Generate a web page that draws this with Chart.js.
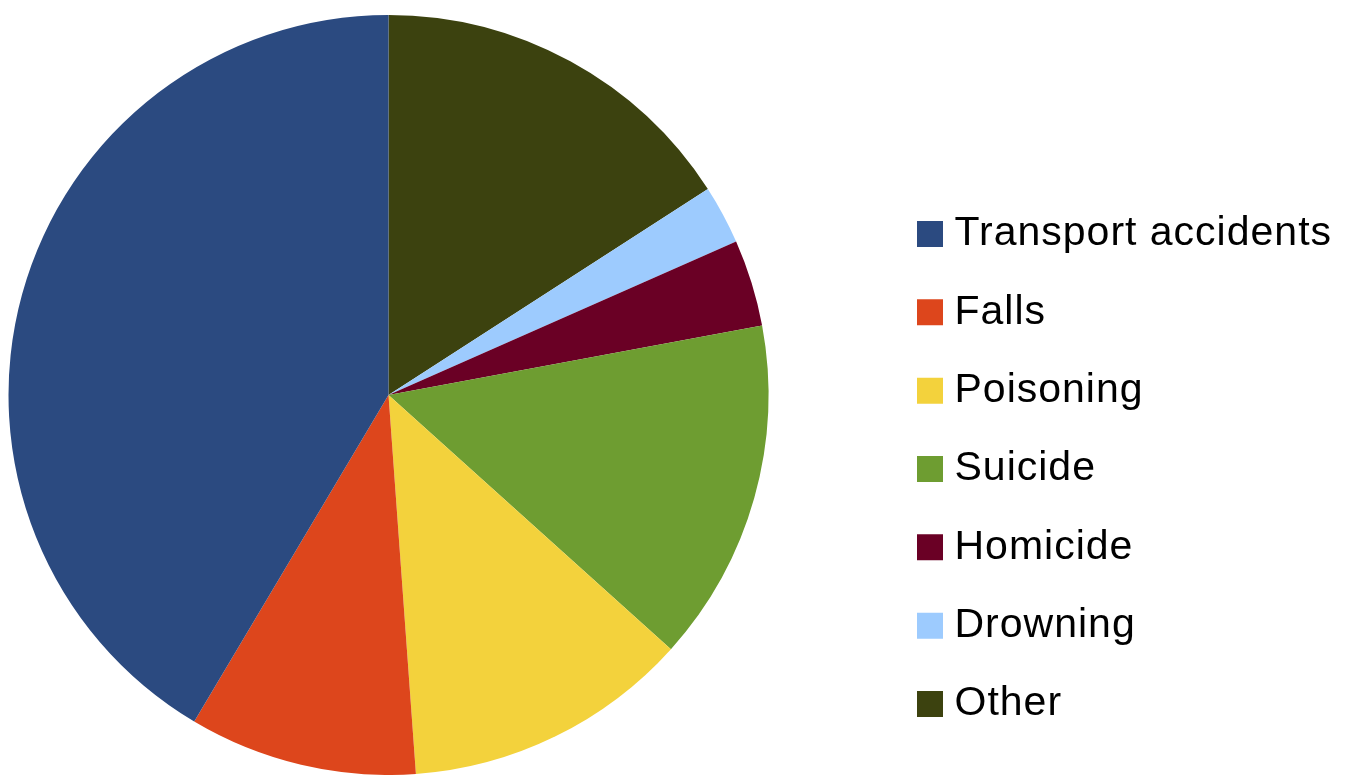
<!DOCTYPE html>
<html>
<head>
<meta charset="utf-8">
<title>Injury deaths by cause</title>
<script src="https://cdn.jsdelivr.net/npm/chart.js@4"></script>
<style>
  html, body { margin: 0; padding: 0; background: #fff; }
  canvas { display: block; }
</style>
</head>
<body>
<canvas id="chart" width="1350" height="775"></canvas>
<script>
// Causes, in legend order
const causes = ['Transport accidents', 'Falls', 'Poisoning', 'Suicide', 'Homicide', 'Drowning', 'Other'];
// Share of deaths, percent
const shares = [41.5, 9.7, 12.2, 14.6, 3.7, 2.5, 15.9];
const colours = ['#2b4a80', '#dd461c', '#f3d23c', '#6e9d31', '#6a0025', '#9dcbfe', '#3c420f'];

// Slices run counter-clockwise from 12 o'clock, so feed them to the
// (clockwise) pie in reverse and flip the legend back.
const sliceLabels = causes.slice().reverse();
const sliceValues = shares.slice().reverse();
const sliceColours = colours.slice().reverse();

const PIE_AREA_WIDTH = 777;   // width left for the pie itself
const LEGEND_X = 926;         // left of first legend box (before stroke)
const LEGEND_Y = 213.5;       // top of first legend row

// Pushes the legend out to the right and keeps the pie on the left.
const legendPlacement = {
  id: 'legendPlacement',
  afterInit(chart) {
    const legend = chart.legend;
    const fit = legend.fit;
    legend.fit = function () {
      fit.call(this);
      this.width = chart.width - PIE_AREA_WIDTH;
    };
  },
  afterLayout(chart) {
    const legend = chart.legend;
    const pad = legend.options.labels.padding;
    legend.left = LEGEND_X - pad;
    legend.right = chart.width;
    legend.top = LEGEND_Y - pad;
    legend.bottom = chart.height;
    legend.width = legend.right - legend.left;
    legend.height = legend.bottom - legend.top;
  },
  // slightly looser lettering for the legend text
  beforeDraw(chart) {
    chart.ctx.letterSpacing = '1px';
  },
  afterDraw(chart) {
    chart.ctx.letterSpacing = '0px';
  }
};

new Chart(document.getElementById('chart'), {
  type: 'pie',
  data: {
    labels: sliceLabels,
    datasets: [{
      data: sliceValues,
      backgroundColor: sliceColours,
      borderWidth: 0
    }]
  },
  options: {
    responsive: false,
    animation: false,
    layout: { padding: { top: 15 } },
    plugins: {
      tooltip: { enabled: false },
      legend: {
        position: 'right',
        align: 'start',
        reverse: true,
        labels: {
          color: '#000',
          font: { family: '"Liberation Sans", Arial, sans-serif', size: 41 },
          boxWidth: 8,
          boxHeight: 8,
          padding: 37.33,
          // small box with a fat stroke: reads as a square sitting close to the text
          generateLabels(chart) {
            const ds = chart.data.datasets[0];
            return chart.data.labels.map((text, i) => ({
              text,
              index: i,
              hidden: false,
              fillStyle: ds.backgroundColor[i],
              strokeStyle: ds.backgroundColor[i],
              lineWidth: 18,
              lineJoin: 'miter',
              fontColor: '#000'
            }));
          }
        }
      }
    }
  },
  plugins: [legendPlacement]
});
</script>
</body>
</html>
